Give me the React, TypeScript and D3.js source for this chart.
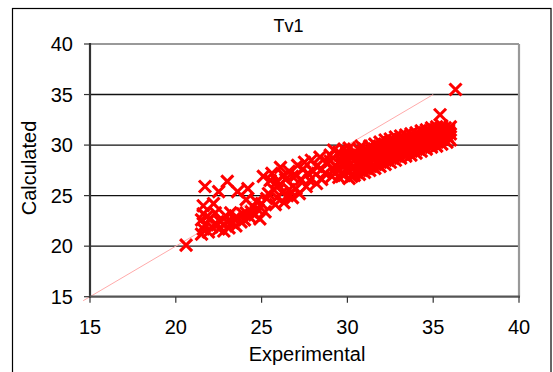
import React from "react";
import * as d3 from "d3";

const title = "Tv1";
const xLabel = "Experimental";
const yLabel = "Calculated";
const xTicks = [15, 20, 25, 30, 35, 40];
const yTicks = [15, 20, 25, 30, 35, 40];
const diagonal: [number, number][] = [[14.6, 14.6], [35, 35]];

// [experimental, calculated]
const lowerCluster: [number, number][] = [
  [20.6, 20.1], [21.5, 21.2], [21.6, 21.7], [21.7, 22.1], [21.5, 22.6], [21.6, 23.2], [21.6, 24.0],
  [21.7, 25.9], [21.9, 21.4], [22.0, 22.7], [22.1, 21.9], [22.2, 24.2], [22.3, 23.3], [22.5, 25.4],
  [22.5, 21.7], [22.6, 22.4], [22.8, 21.5], [22.9, 23.0], [23.0, 26.4], [23.1, 21.8], [23.2, 23.3],
  [23.3, 22.3], [23.5, 22.0], [23.6, 22.8], [23.6, 25.4], [23.8, 22.4], [23.9, 23.2], [24.0, 22.6],
  [24.1, 23.3], [24.2, 25.7], [24.1, 24.6], [24.3, 22.9], [24.5, 23.9], [24.6, 23.1], [24.8, 23.6],
  [24.9, 22.7], [25.0, 24.2], [25.1, 26.9], [25.2, 23.4], [25.3, 24.7], [25.4, 25.2], [25.5, 26.5],
  [21.8, 22.9], [22.4, 22.1], [23.4, 22.7], [24.4, 23.4], [23.0, 22.4], [24.7, 24.4],
];
const middleBand: [number, number][] = [
  [25.6, 27.2], [25.7, 25.6], [25.8, 24.1], [25.9, 24.8], [26.0, 26.0], [26.1, 27.8], [26.2, 25.3],
  [26.3, 24.3], [26.4, 26.6], [26.5, 25.0], [26.6, 27.4], [26.8, 26.9], [26.8, 24.8], [27.0, 25.7],
  [27.1, 28.0], [27.2, 25.2], [27.3, 26.6], [27.4, 27.6], [27.5, 28.3], [27.6, 25.9], [27.8, 26.5],
  [27.9, 28.5], [28.0, 27.4], [28.2, 26.2], [28.2, 27.9], [28.4, 28.8], [28.5, 26.6], [28.7, 27.2],
  [28.8, 28.3], [29.0, 29.0], [29.1, 26.9], [29.2, 29.5], [29.3, 28.0], [29.2, 27.5],
  [25.9, 26.4], [26.6, 25.6], [27.0, 27.0], [27.7, 27.2], [28.5, 27.6], [29.0, 28.4], [26.3, 27.0],
];
const denseBand: [number, number][] = [
  [29.5, 26.8], [29.5, 27.6], [29.6, 28.5], [29.5, 29.3],
  [29.8, 27.0], [29.8, 27.9], [29.9, 28.8], [29.8, 29.6],
  [30.1, 26.7], [30.1, 27.4], [30.2, 28.2], [30.1, 29.0], [30.1, 29.7],
  [30.4, 27.0], [30.4, 27.8], [30.5, 28.6], [30.4, 29.3],
  [30.7, 27.1], [30.7, 27.9], [30.8, 28.7], [30.7, 29.5], [30.8, 29.9],
  [31.0, 27.3], [31.0, 28.1], [31.1, 28.9], [31.0, 29.6],
  [31.3, 27.5], [31.3, 28.3], [31.4, 29.1], [31.3, 29.9],
  [31.6, 27.7], [31.6, 28.6], [31.7, 29.4], [31.6, 30.1],
  [31.9, 27.9], [31.9, 28.7], [32.0, 29.5], [31.9, 30.3],
  [32.2, 28.1], [32.2, 28.9], [32.3, 29.7], [32.2, 30.5],
  [32.5, 28.3], [32.5, 29.1], [32.6, 29.9], [32.5, 30.6],
  [32.8, 28.5], [32.8, 29.3], [32.9, 30.1], [32.8, 30.8],
  [33.1, 28.7], [33.1, 29.5], [33.2, 30.2], [33.1, 30.9],
  [33.4, 28.9], [33.4, 29.7], [33.5, 30.4], [33.4, 31.0],
  [33.7, 29.0], [33.7, 29.8], [33.8, 30.5], [33.7, 31.1],
  [34.0, 29.2], [34.0, 30.0], [34.1, 30.7], [34.0, 31.2],
  [34.3, 29.4], [34.3, 30.1], [34.4, 30.8], [34.3, 31.4],
  [34.6, 29.6], [34.6, 30.3], [34.7, 31.0], [34.6, 31.5],
  [34.9, 29.8], [34.9, 30.5], [35.0, 31.1], [34.9, 31.7],
  [35.2, 29.9], [35.2, 30.6], [35.3, 31.2], [35.2, 31.8],
  [35.5, 30.1], [35.5, 30.8], [35.6, 31.4], [35.5, 31.9],
  [35.8, 30.3], [35.8, 30.9], [35.9, 31.5],
  [36.0, 30.5], [36.0, 31.1], [36.0, 31.8],
];
const denseFill: [number, number][] = [
  [29.65, 27.2], [29.65, 28.1], [29.65, 28.9], [29.95, 27.5], [29.95, 28.3], [29.95, 29.2],
  [30.25, 26.9], [30.25, 27.7], [30.3, 28.9], [30.55, 27.3], [30.55, 28.2], [30.6, 29.0],
  [30.85, 27.5], [30.85, 28.4], [30.9, 29.3], [31.15, 27.7], [31.15, 28.6], [31.2, 29.4],
  [31.45, 27.9], [31.45, 28.8], [31.5, 29.6], [31.75, 28.1], [31.75, 29.0], [31.8, 29.8],
  [32.05, 28.3], [32.05, 29.2], [32.1, 30.0], [32.35, 28.5], [32.35, 29.4], [32.4, 30.2],
  [32.65, 28.7], [32.65, 29.6], [32.7, 30.4], [32.95, 28.9], [32.95, 29.8], [33.0, 30.5],
  [33.25, 29.1], [33.25, 29.9], [33.3, 30.7], [33.55, 29.3], [33.55, 30.1], [33.6, 30.8],
  [33.85, 29.5], [33.85, 30.3], [33.9, 30.9], [34.15, 29.6], [34.15, 30.4], [34.2, 31.0],
  [34.45, 29.8], [34.45, 30.6], [34.5, 31.2], [34.75, 30.0], [34.75, 30.8], [34.8, 31.4],
  [35.05, 30.2], [35.05, 30.9], [35.1, 31.5], [35.35, 30.4], [35.35, 31.0], [35.4, 31.6],
  [35.65, 30.5], [35.65, 31.2], [35.7, 31.7], [35.9, 30.7], [35.9, 31.3],
];
const outliers: [number, number][] = [[35.4, 33.0], [36.3, 35.5]];

const W = 553;
const H = 372;
const plot = { left: 90, right: 519, top: 44, bottom: 296.7 };
const font = "'Liberation Sans', Arial, sans-serif";

export default function App() {
  const x = d3.scaleLinear().domain([15, 40]).range([plot.left, plot.right]);
  const y = d3.scaleLinear().domain([15, 40]).range([plot.bottom, plot.top]);
  const points = [...lowerCluster, ...middleBand, ...denseBand, ...denseFill, ...outliers];
  const line = d3.line<[number, number]>().x((d) => x(d[0])).y((d) => y(d[1]));
  const arm = 6;
  const xPath = `M${-arm},${-arm}L${arm},${arm}M${-arm},${arm}L${arm},${-arm}`;

  return (
    <svg width={W} height={H} style={{ position: "absolute", left: 0, top: 0, background: "#fff" }}>
      <rect x={12.5} y={8.5} width={538.5} height={400} fill="#fff" stroke="#000" strokeWidth={1.2} />
      {yTicks.filter((t) => t > 15 && t < 40).map((t) => (
        <line key={"g" + t} x1={plot.left} x2={plot.right} y1={y(t)} y2={y(t)} stroke="#111" strokeWidth={1.4} />
      ))}
      <line x1={plot.left} x2={plot.right} y1={plot.top} y2={plot.top} stroke="#999" strokeWidth={2.2} />
      <line x1={plot.right} x2={plot.right} y1={plot.top} y2={plot.bottom} stroke="#999" strokeWidth={2.2} />
      <path d={line(diagonal) || ""} stroke="#ffaaaa" strokeWidth={1} fill="none" />
      <g>
        {points.map((p, i) => (
          <path key={i} d={xPath} transform={`translate(${x(p[0])},${y(p[1])})`} stroke="#ff0000" strokeWidth={3.1} fill="none" />
        ))}
      </g>
      <line x1={plot.left} x2={plot.left} y1={plot.top - 1} y2={plot.bottom + 1} stroke="#333" strokeWidth={2.2} />
      <line x1={plot.left - 1} x2={plot.right + 1} y1={plot.bottom} y2={plot.bottom} stroke="#555" strokeWidth={2.2} />
      {yTicks.map((t) => (
        <g key={"yt" + t}>
          <line x1={plot.left - 6} x2={plot.left} y1={y(t)} y2={y(t)} stroke="#333" strokeWidth={1.2} />
          <text x={73} y={y(t)} dy="0.35em" textAnchor="end" fontFamily={font} fontSize={20} fill="#000">{t}</text>
        </g>
      ))}
      {xTicks.map((t) => (
        <g key={"xt" + t}>
          <line x1={x(t)} x2={x(t)} y1={plot.bottom} y2={plot.bottom + 6} stroke="#333" strokeWidth={1.2} />
          <text x={x(t)} y={334} textAnchor="middle" fontFamily={font} fontSize={20} fill="#000">{t}</text>
        </g>
      ))}
      <text x={288.5} y={32} textAnchor="middle" fontFamily={font} fontSize={18} fill="#000">{title}</text>
      <text x={307} y={361} textAnchor="middle" fontFamily={font} fontSize={20} fill="#000">{xLabel}</text>
      <text transform={`translate(35.5,168) rotate(-90)`} textAnchor="middle" fontFamily={font} fontSize={20} fill="#000">{yLabel}</text>
    </svg>
  );
}
